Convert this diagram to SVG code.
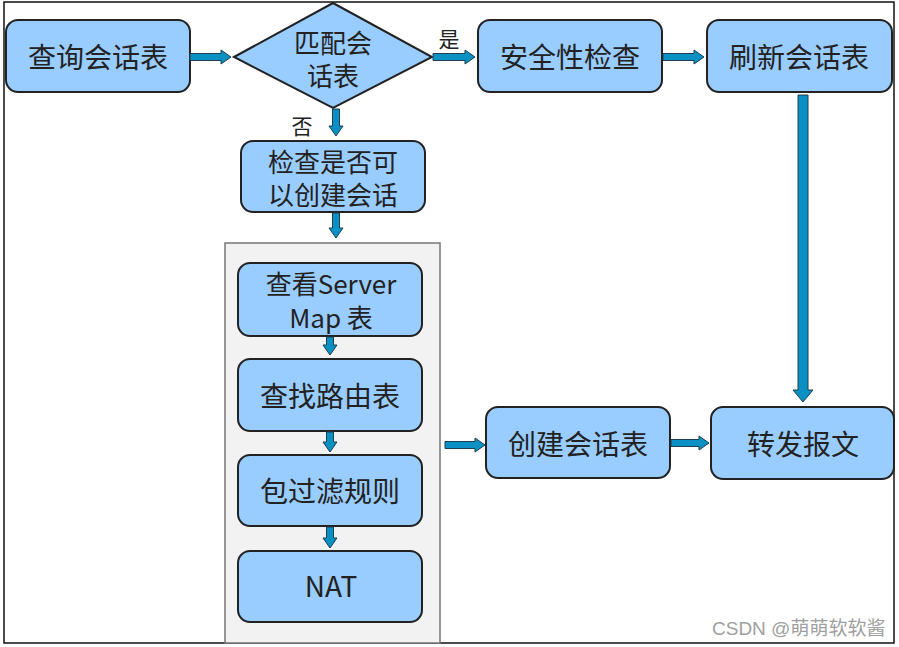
<svg xmlns="http://www.w3.org/2000/svg" width="899" height="647" viewBox="0 0 899 647">
<style>
.box{fill:#99ccff;stroke:#222;stroke-width:2}
.t{font-family:"Noto Sans CJK SC","Noto Sans",sans-serif;font-size:28px;fill:#222;text-anchor:middle;dominant-baseline:central}
.t2{font-family:"Noto Sans CJK SC","Noto Sans",sans-serif;font-size:26px;fill:#222;text-anchor:middle;dominant-baseline:central}
.lbl{font-family:"Noto Sans CJK SC","Noto Sans",sans-serif;font-size:21px;fill:#222;text-anchor:middle;dominant-baseline:central}
.arr{fill:#0a90c2;stroke:#1d3f50;stroke-width:1}
</style>
<rect x="0" y="0" width="899" height="647" fill="#fff"/>
<rect x="4" y="2" width="890" height="641" fill="none" stroke="#111" stroke-width="1.5"/>
<g id="container"><rect x="225" y="243" width="215" height="400" fill="#f2f2f2" stroke="#777" stroke-width="1.5"/></g>
<g id="n1"><rect class="box" x="6" y="20" width="184" height="72" rx="12"/><text class="t" x="98" y="56">查询会话表</text></g>
<g id="n2"><polygon class="box" points="234,57 333,3 432,57 333,108"/><text class="t2" x="333" y="41">匹配会</text><text class="t2" x="333" y="74">话表</text></g>
<g id="n3"><rect class="box" x="478" y="20" width="184" height="72" rx="12"/><text class="t" x="570" y="56">安全性检查</text></g>
<g id="n4"><rect class="box" x="707" y="20" width="185" height="72" rx="12"/><text class="t" x="799" y="56">刷新会话表</text></g>
<g id="n5"><rect class="box" x="241" y="141" width="184" height="71" rx="12"/><text class="t2" x="333" y="160">检查是否可</text><text class="t2" x="333" y="193">以创建会话</text></g>
<g id="n6"><rect class="box" x="238" y="263" width="184" height="73" rx="12"/><text class="t2" x="331" y="282">查看Server</text><text class="t2" x="331" y="316">Map 表</text></g>
<g id="n7"><rect class="box" x="238" y="359" width="184" height="72" rx="12"/><text class="t" x="330" y="395">查找路由表</text></g>
<g id="n8"><rect class="box" x="238" y="455" width="184" height="71" rx="12"/><text class="t" x="330" y="490">包过滤规则</text></g>
<g id="n9"><rect class="box" x="238" y="551" width="184" height="71" rx="12"/><text class="t" x="331" y="585">NAT</text></g>
<g id="n10"><rect class="box" x="486" y="407" width="184" height="71" rx="12"/><text class="t" x="578" y="443">创建会话表</text></g>
<g id="n11"><rect class="box" x="711" y="407" width="183" height="72" rx="12"/><text class="t" x="803" y="443">转发报文</text></g>
<g id="connectors">
<path class="arr" d="M190 53.5H221V50L231 57L221 64V60.5H190Z"/>
<path class="arr" d="M433 53.5H465V50L475 57L465 64V60.5H433Z"/>
<path class="arr" d="M663 53.5H694V50L704 57L694 64V60.5H663Z"/>
<path class="arr" d="M798 95V390H793L803 402L813 390H808V95Z"/>
<path class="arr" d="M332.5 109V126H329L336 136L343 126H339.5V109Z"/>
<path class="arr" d="M332.5 213V228H329L336 238L343 228H339.5V213Z"/>
<path class="arr" d="M326.5 337V345H323L330 355L337 345H333.5V337Z"/>
<path class="arr" d="M326.5 432V442H323L330 452L337 442H333.5V432Z"/>
<path class="arr" d="M326.5 527V538H323L330 548L337 538H333.5V527Z"/>
<path class="arr" d="M445 441.5H475V438L485 445L475 452V448.5H445Z"/>
<path class="arr" d="M671 439.5H699V436L709 443L699 450V446.5H671Z"/>
<text class="lbl" x="449" y="38">是</text>
<text class="lbl" x="302" y="125">否</text>
</g>
<text x="712" y="635" font-family="Liberation Sans,'Noto Sans CJK SC',sans-serif" font-size="19" fill="#a0a0a0">CSDN @萌萌软软酱</text>
</svg>
